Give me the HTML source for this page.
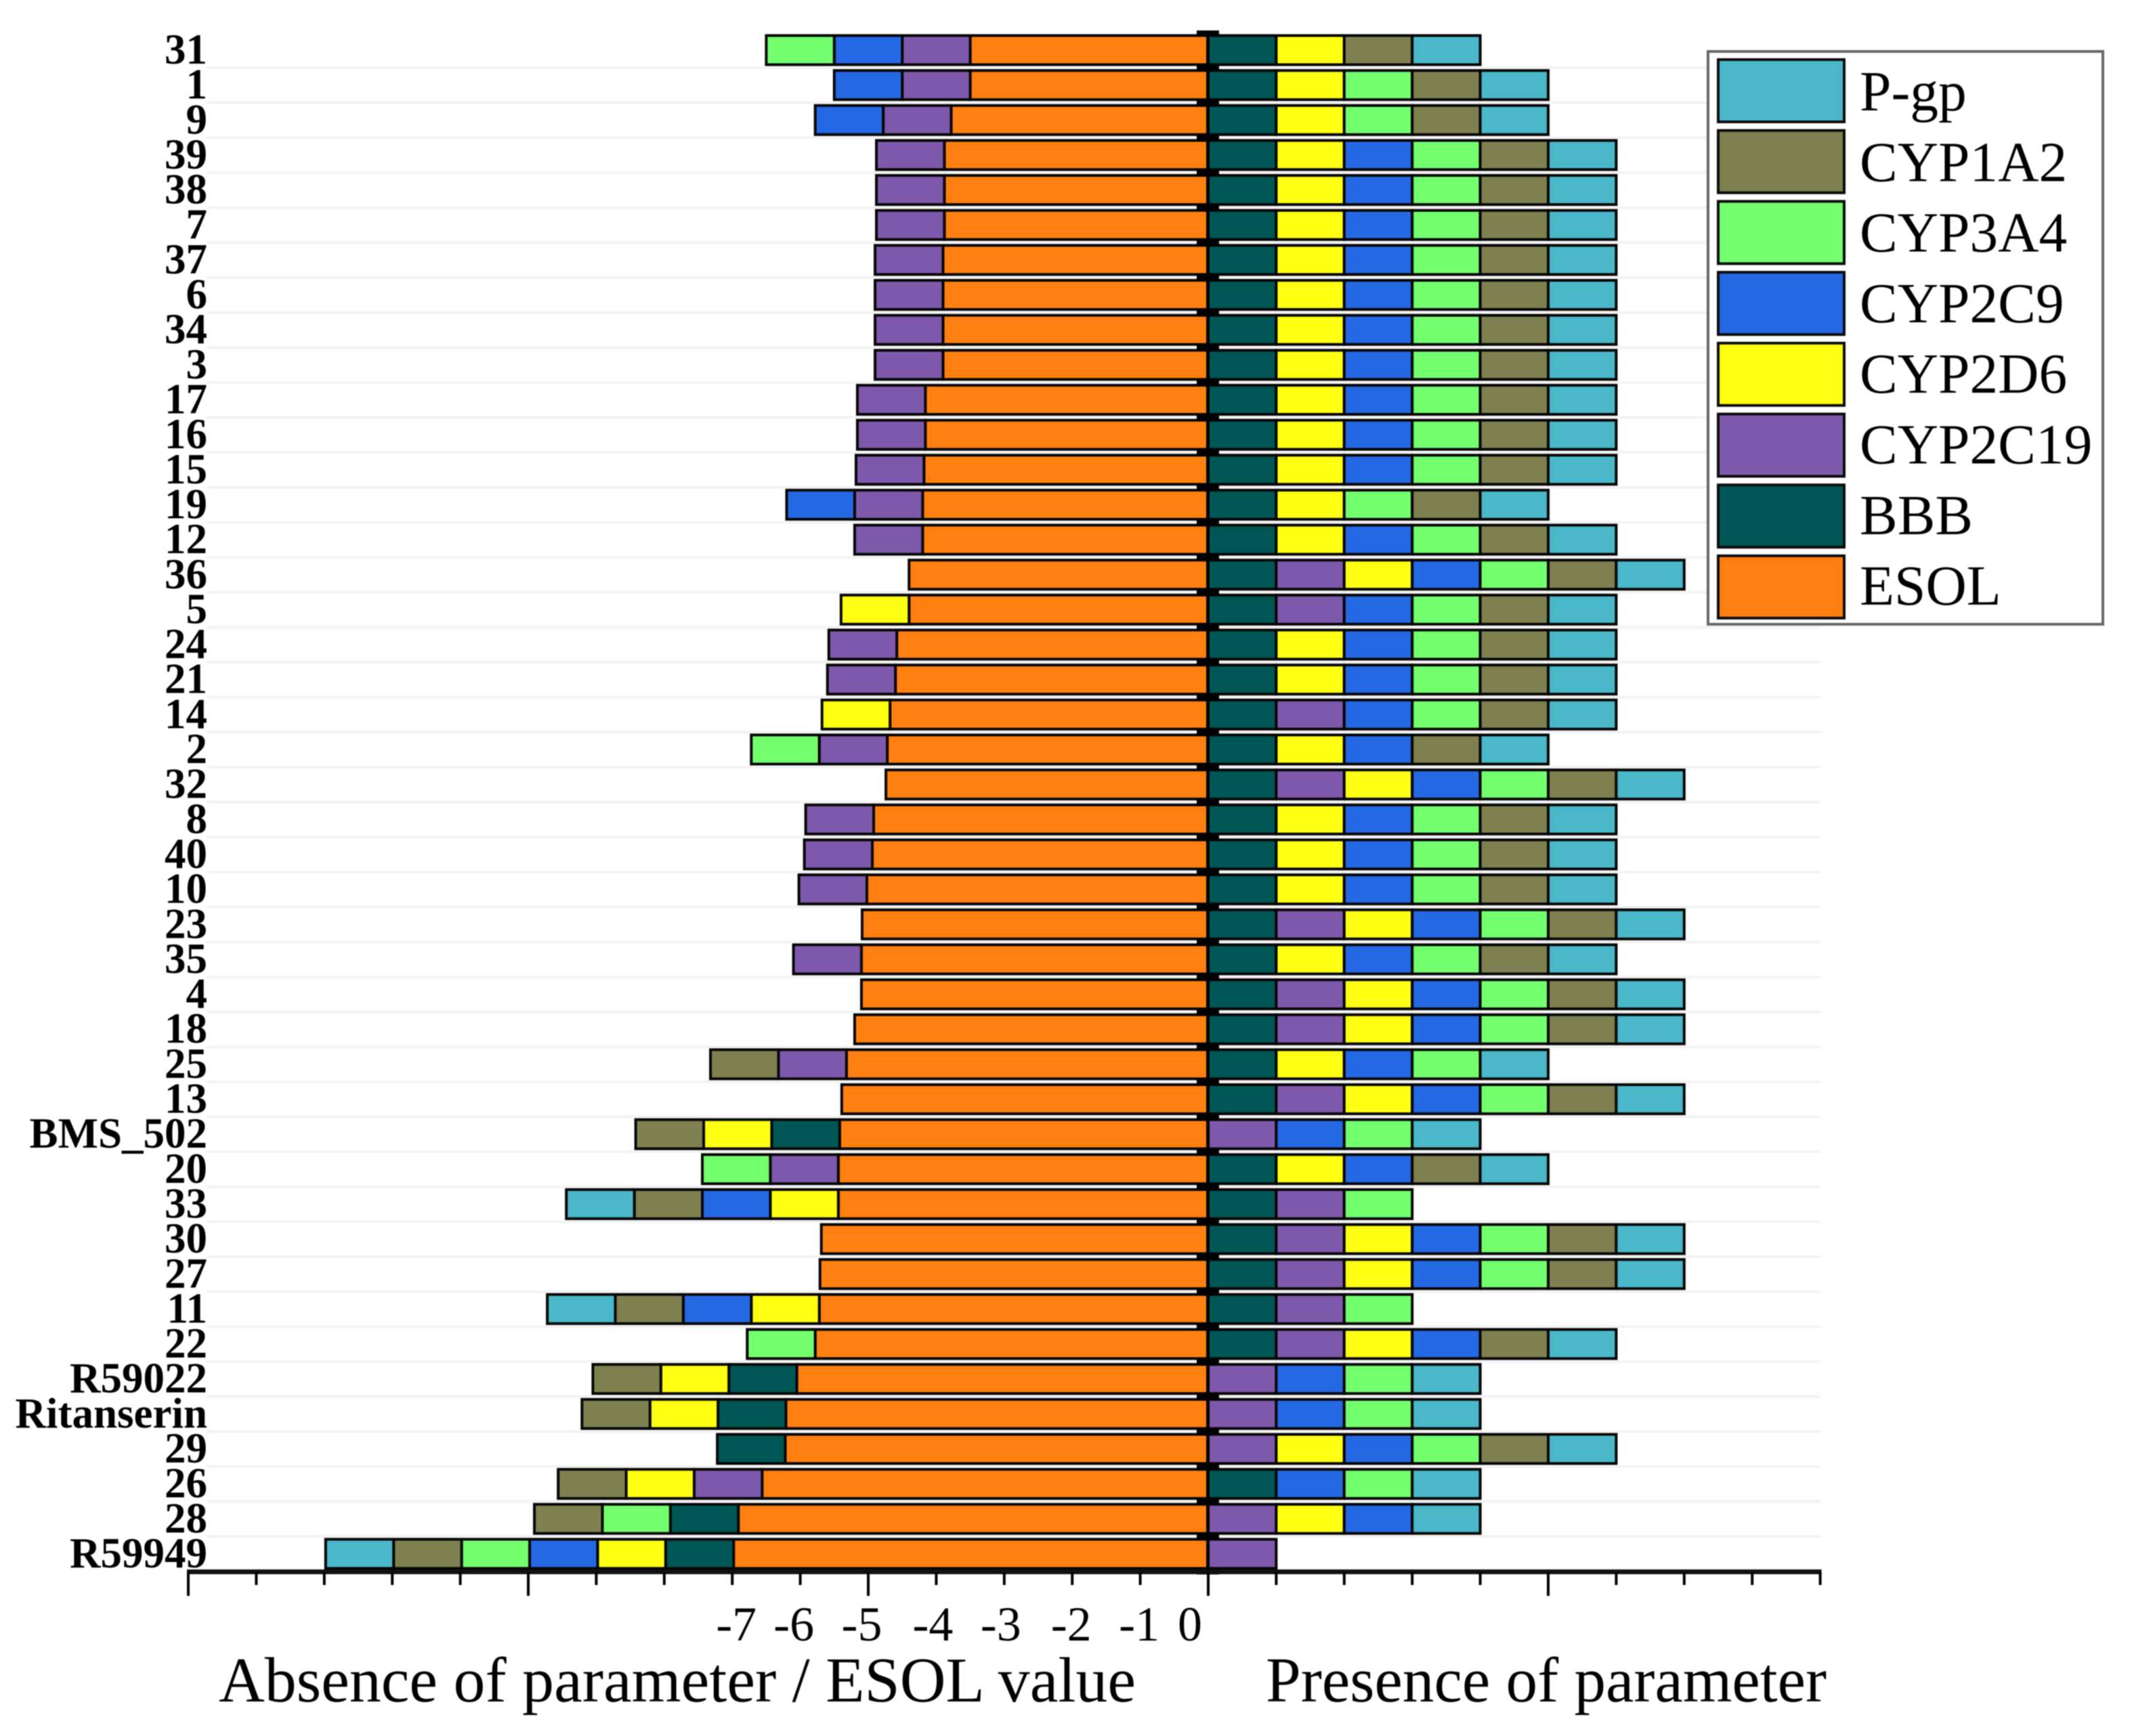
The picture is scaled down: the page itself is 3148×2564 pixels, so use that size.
<!DOCTYPE html>
<html lang="en">
<head>
<meta charset="utf-8">
<title>ESOL value and presence or absence of ADMET parameters</title>
<style>
html,body{margin:0;padding:0;background:#fff;}
svg{display:block;font-family:"Liberation Serif",serif;filter:blur(0.8px);}
</style>
</head>
<body>
<svg id="chart" xmlns="http://www.w3.org/2000/svg" width="3148" height="2564" viewBox="0 0 3148 2564">
  <rect x="0" y="0" width="3148" height="2564" fill="#ffffff"/>
  <g id="gridlines"></g>
  <g id="bars"></g>
  <g id="axes"></g>
  <g id="rowlabels"></g>
  <g id="ticklabels"></g>
  <text x="323" y="2513" font-size="94" fill="#000" textLength="1354" lengthAdjust="spacingAndGlyphs">Absence of parameter / ESOL value</text>
  <text x="1869" y="2513" font-size="94" fill="#000" textLength="828" lengthAdjust="spacingAndGlyphs">Presence of parameter</text>
  <g id="legend">
    <rect x="2522" y="76" width="583" height="846" fill="#ffffff" stroke="#666666" stroke-width="4"/>
  </g>
</svg>
<script>
// Compound names, top row first
const categories = ["31","1","9","39","38","7","37","6","34","3","17","16","15","19","12","36","5","24","21","14","2","32","8","40","10","23","35","4","18","25","13","BMS_502","20","33","30","27","11","22","R59022","Ritanserin","29","26","28","R59949"];

// ESOL value for each compound
const esolValues = [-3.5,-3.5,-3.78,-3.88,-3.88,-3.88,-3.9,-3.9,-3.9,-3.9,
  -4.16,-4.16,-4.18,-4.2,-4.2,-4.4,-4.4,-4.58,-4.6,-4.68,
  -4.72,-4.74,-4.92,-4.94,-5.02,-5.09,-5.1,-5.1,-5.2,-5.32,
  -5.39,-5.42,-5.44,-5.44,-5.69,-5.71,-5.72,-5.78,-6.05,-6.21,
  -6.22,-6.56,-6.91,-6.98];

// +1 = parameter present (stacks right), -1 = absent (stacks left)
const bbbValues = [1,1,1,1,1,1,1,1,1,1,
  1,1,1,1,1,1,1,1,1,1,
  1,1,1,1,1,1,1,1,1,1,
  1,-1,1,1,1,1,1,1,-1,-1,
  -1,1,-1,-1];
const cyp2c19Values = [-1,-1,-1,-1,-1,-1,-1,-1,-1,-1,
  -1,-1,-1,-1,-1,1,1,-1,-1,1,
  -1,1,-1,-1,-1,1,-1,1,1,-1,
  1,1,-1,1,1,1,1,1,1,1,
  1,-1,1,1];
const cyp2d6Values = [1,1,1,1,1,1,1,1,1,1,
  1,1,1,1,1,1,-1,1,1,-1,
  1,1,1,1,1,1,1,1,1,1,
  1,-1,1,-1,1,1,-1,1,-1,-1,
  1,-1,1,-1];
const cyp2c9Values = [-1,-1,-1,1,1,1,1,1,1,1,
  1,1,1,-1,1,1,1,1,1,1,
  1,1,1,1,1,1,1,1,1,1,
  1,1,1,-1,1,1,-1,1,1,1,
  1,1,1,-1];
const cyp3a4Values = [-1,1,1,1,1,1,1,1,1,1,
  1,1,1,1,1,1,1,1,1,1,
  -1,1,1,1,1,1,1,1,1,1,
  1,1,-1,1,1,1,1,-1,1,1,
  1,1,-1,-1];
const cyp1a2Values = [1,1,1,1,1,1,1,1,1,1,
  1,1,1,1,1,1,1,1,1,1,
  1,1,1,1,1,1,1,1,1,-1,
  1,-1,1,-1,1,1,-1,1,-1,-1,
  1,-1,-1,-1];
const pgpValues = [1,1,1,1,1,1,1,1,1,1,
  1,1,1,1,1,1,1,1,1,1,
  1,1,1,1,1,1,1,1,1,1,
  1,1,1,-1,1,1,-1,1,1,1,
  1,1,1,-1];

// Axis ticks
const xTickValues = [-15,-14,-13,-12,-11,-10,-9,-8,-7,-6,-5,-4,-3,-2,-1,0,1,2,3,4,5,6,7,8,9];
const xTickLabels = [-7,-6,-5,-4,-3,-2,-1,0];

const seriesNames = ["BBB","CYP2C19","CYP2D6","CYP2C9","CYP3A4","CYP1A2","P-gp"];
const seriesColors = ["#005655","#7e58aa","#ffff14","#2468e4","#74ff6e","#7f8050","#4ab8c9"];
const seriesValues = [bbbValues,cyp2c19Values,cyp2d6Values,cyp2c9Values,cyp3a4Values,cyp1a2Values,pgpValues];
const legendNames = ["P-gp","CYP1A2","CYP3A4","CYP2C9","CYP2D6","CYP2C19","BBB","ESOL"];
const legendColors = ["#4ab8c9","#7f8050","#74ff6e","#2468e4","#ffff14","#7e58aa","#005655","#ff8010"];

const NS = "http://www.w3.org/2000/svg";
function xScale(v){ return 1784 + 100.4 * v; }
function yScale(i){ return 74 + 51.65 * i; }
function tickLabelNudge(v){
  if (v === 0) return -27;
  if (v === -7) return 6;
  if (v === -6 || v === -5) return -9.5;
  if (v === -4 || v === -3) return -5;
  return -1.5;
}
function make(tag, parent){
  const el = document.createElementNS(NS, tag);
  parent.appendChild(el);
  return el;
}
function slug(s){ return s.toLowerCase().replace(/[^a-z0-9]+/g, "-"); }

const barHeight = 43;
const gridG = document.getElementById("gridlines");
const barsG = document.getElementById("bars");
const axesG = document.getElementById("axes");
const labelG = document.getElementById("rowlabels");
const tickLabelG = document.getElementById("ticklabels");
const legendG = document.getElementById("legend");

function drawSegment(rowIdx, from, to, color, name){
  const r = make("rect", barsG);
  
  
  r.setAttribute("x", Math.min(xScale(from), xScale(to)));
  r.setAttribute("y", yScale(rowIdx) - barHeight / 2);
  r.setAttribute("width", Math.abs(xScale(to) - xScale(from)));
  r.setAttribute("height", barHeight);
  r.setAttribute("fill", color);
  r.setAttribute("stroke", "#050505");
  r.setAttribute("stroke-width", "4");
}

categories.forEach(function(cat, i){
  const g = make("rect", gridG);
  
  
  g.setAttribute("x", 305);
  g.setAttribute("y", yScale(i) + 24);
  g.setAttribute("width", 2383);
  g.setAttribute("height", 4);
  g.setAttribute("fill", "#f3f3f3");

  drawSegment(i, 0, esolValues[i], "#ff8010", "ESOL");
  let neg = esolValues[i];
  let pos = 0;
  seriesValues.forEach(function(values, s){
    const v = values[i];
    if (v > 0) {
      drawSegment(i, pos, pos + v, seriesColors[s], seriesNames[s]);
      pos += v;
    } else if (v < 0) {
      drawSegment(i, neg, neg + v, seriesColors[s], seriesNames[s]);
      neg += v;
    }
  });

  const t = make("text", labelG);
  
  
  t.setAttribute("x", 306);
  t.setAttribute("y", yScale(i) + 20);
  t.setAttribute("text-anchor", "end");
  t.setAttribute("font-size", "63");
  t.setAttribute("font-weight", "bold");
  t.setAttribute("fill", "#000");
  t.textContent = cat;

  const yt = make("rect", axesG);
  
  
  yt.setAttribute("x", 1767);
  yt.setAttribute("y", yScale(i) + 22.5);
  yt.setAttribute("width", 33);
  yt.setAttribute("height", 8);
  yt.setAttribute("fill", "#000");
});

// top tick of the centre axis
const topTick = make("rect", axesG);


topTick.setAttribute("x", 1767);
topTick.setAttribute("y", 45);
topTick.setAttribute("width", 33);
topTick.setAttribute("height", 9);
topTick.setAttribute("fill", "#000");

const yAxis = make("rect", axesG);


yAxis.setAttribute("x", 1781);
yAxis.setAttribute("y", 45);
yAxis.setAttribute("width", 5);
yAxis.setAttribute("height", 2280);
yAxis.setAttribute("fill", "#000");

const xAxis = make("rect", axesG);


xAxis.setAttribute("x", xScale(-15) - 2);
xAxis.setAttribute("y", 2318);
xAxis.setAttribute("width", xScale(9) - xScale(-15) + 4);
xAxis.setAttribute("height", 7);
xAxis.setAttribute("fill", "#111");

xTickValues.forEach(function(v){
  const major = v % 5 === 0;
  const tick = make("rect", axesG);
  
  
  tick.setAttribute("x", xScale(v) - 2);
  tick.setAttribute("y", 2322);
  tick.setAttribute("width", 4);
  tick.setAttribute("height", major ? 35 : 19);
  tick.setAttribute("fill", "#000");
});

xTickLabels.forEach(function(v){
  const t = make("text", tickLabelG);
  
  
  t.setAttribute("x", xScale(v) + tickLabelNudge(v));
  t.setAttribute("y", 2423);
  t.setAttribute("text-anchor", "middle");
  t.setAttribute("font-size", "72");
  t.setAttribute("fill", "#000");
  t.textContent = String(v);
});

legendNames.forEach(function(name, i){
  const sw = make("rect", legendG);
  
  
  sw.setAttribute("x", 2537);
  sw.setAttribute("y", 88 + 104.7 * i);
  sw.setAttribute("width", 186);
  sw.setAttribute("height", 92);
  sw.setAttribute("fill", legendColors[i]);
  sw.setAttribute("stroke", "#0a0a0a");
  sw.setAttribute("stroke-width", "4");

  const t = make("text", legendG);
  
  
  t.setAttribute("x", 2746);
  t.setAttribute("y", 163 + 104.3 * i);
  t.setAttribute("font-size", "83.5");
  t.setAttribute("fill", "#000");
  t.textContent = name;
});
</script>
</body>
</html>
